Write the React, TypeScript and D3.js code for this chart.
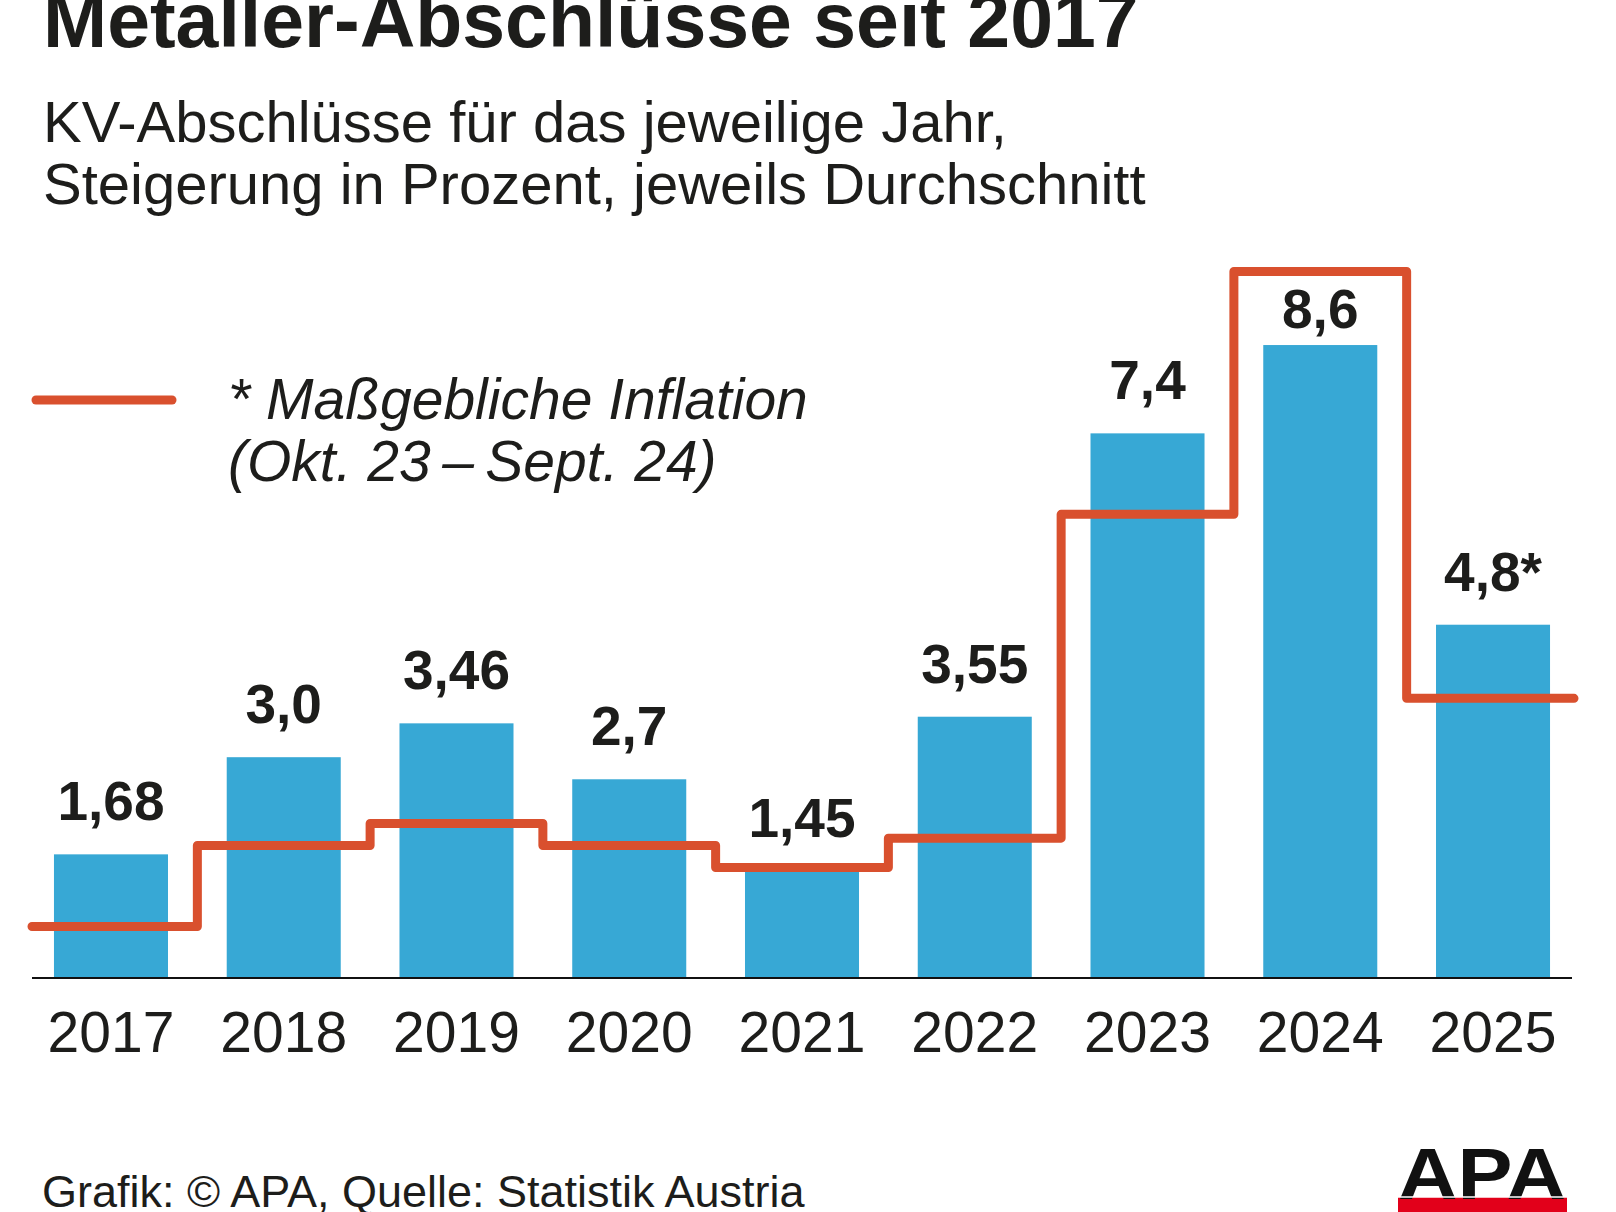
import React, { useEffect, useRef } from 'react';
import * as d3 from 'd3';

// Metaller KV agreements per year (percent) and the inflation they were based on
const years = ['2017', '2018', '2019', '2020', '2021', '2022', '2023', '2024', '2025'];
const agreements = [1.68, 3.0, 3.46, 2.7, 1.45, 3.55, 7.4, 8.6, 4.8];
const agreementLabels = ['1,68', '3,0', '3,46', '2,7', '1,45', '3,55', '7,4', '8,6', '4,8*'];
const inflation = [0.7, 1.8, 2.1, 1.8, 1.5, 1.9, 6.3, 9.6, 3.8];

const titleText = 'Metaller-Abschlüsse seit 2017';
const subtitleLines = ['KV-Abschlüsse für das jeweilige Jahr,', 'Steigerung in Prozent, jeweils Durchschnitt'];
const legendLines = ['* Maßgebliche Inflation', '(Okt. 23\u2009–\u2009Sept. 24)'];
const footerText = 'Grafik: © APA, Quelle: Statistik Austria';

const FONT = '"Liberation Sans", Arial, Helvetica, sans-serif';
const BAR_COLOR = '#37a8d5';
const LINE_COLOR = '#d9502e';
const TEXT_COLOR = '#1d1d1b';

function App() {
  const ref = useRef<SVGSVGElement>(null);

  useEffect(() => {
    const svg = d3.select(ref.current);
    svg.selectAll('*').remove();

    const width = 1616;
    const height = 1212;
    const baseY = 978;
    const axisX0 = 32;
    const axisX1 = 1572;

    svg.append('rect').attr('width', width).attr('height', height).attr('fill', '#fff');

    // Title and subtitle
    svg.append('text')
      .attr('x', 43).attr('y', 47)
      .attr('font-family', FONT).attr('font-weight', 'bold').attr('font-size', 77)
      .attr('fill', TEXT_COLOR)
      .text(titleText);

    svg.selectAll('.subtitle')
      .data(subtitleLines)
      .enter().append('text')
      .attr('x', 43)
      .attr('y', (d, i) => 142 + i * 62)
      .attr('font-family', FONT).attr('font-size', 58)
      .attr('fill', TEXT_COLOR)
      .text(d => d);

    // Scales
    const x = d3.scaleBand<string>()
      .domain(years)
      .range([24.6, 1579.4])
      .paddingInner(0.34)
      .paddingOuter(0.17);

    const y = d3.scaleLinear()
      .domain([0, 10])
      .range([baseY, baseY - 736]);

    // Bars
    svg.selectAll('.bar')
      .data(agreements)
      .enter().append('rect')
      .attr('x', (d, i) => x(years[i]) as number)
      .attr('y', d => y(d))
      .attr('width', x.bandwidth())
      .attr('height', d => baseY - y(d))
      .attr('fill', BAR_COLOR);

    // Baseline
    svg.append('line')
      .attr('x1', axisX0).attr('x2', axisX1)
      .attr('y1', baseY).attr('y2', baseY)
      .attr('stroke', '#111').attr('stroke-width', 2);

    // Year labels via axis
    const axis = svg.append('g')
      .attr('transform', `translate(0,${baseY})`)
      .call(d3.axisBottom(x).tickSize(0).tickPadding(34));
    axis.select('.domain').remove();
    axis.selectAll('text')
      .attr('font-family', FONT)
      .attr('font-size', 57)
      .attr('fill', TEXT_COLOR);

    // Inflation step line (steps at band boundaries)
    const center = (i: number) => (x(years[i]) as number) + x.bandwidth() / 2;
    const pts: [number, number][] = [[axisX0, inflation[0]]];
    inflation.forEach((v, i) => pts.push([center(i), v]));
    pts.push([axisX1 + 2, inflation[inflation.length - 1]]);

    const stepLine = d3.line<[number, number]>()
      .x(d => d[0])
      .y(d => y(d[1]))
      .curve(d3.curveStep);

    svg.append('path')
      .datum(pts)
      .attr('fill', 'none')
      .attr('stroke', LINE_COLOR)
      .attr('stroke-width', 9)
      .attr('stroke-linejoin', 'round')
      .attr('stroke-linecap', 'round')
      .attr('d', stepLine);

    // Value labels above bars; pushed below the inflation line when it sits over the label
    const labelSize = 55;
    const capH = labelSize * 0.72;
    svg.selectAll('.value')
      .data(agreements)
      .enter().append('text')
      .attr('x', (d, i) => center(i))
      .attr('y', (d, i) => {
        let b = y(d) - 34;
        const ly = y(inflation[i]);
        if (ly < b && ly + 4.5 + 12 > b - capH) b = ly + 4.5 + 12 + capH;
        return b;
      })
      .attr('text-anchor', 'middle')
      .attr('font-family', FONT).attr('font-weight', 'bold').attr('font-size', labelSize)
      .attr('fill', TEXT_COLOR)
      .text((d, i) => agreementLabels[i]);

    // Legend
    svg.append('line')
      .attr('x1', 36).attr('x2', 172)
      .attr('y1', 400).attr('y2', 400)
      .attr('stroke', LINE_COLOR).attr('stroke-width', 9)
      .attr('stroke-linecap', 'round');

    svg.selectAll('.legend')
      .data(legendLines)
      .enter().append('text')
      .attr('x', 228)
      .attr('y', (d, i) => 419 + i * 62)
      .attr('font-family', FONT).attr('font-style', 'italic').attr('font-size', 57)
      .attr('fill', TEXT_COLOR)
      .text(d => d);

    // Footer
    svg.append('text')
      .attr('x', 42).attr('y', 1207)
      .attr('font-family', FONT).attr('font-size', 45)
      .attr('fill', TEXT_COLOR)
      .text(footerText);

    // APA logo
    svg.append('rect')
      .attr('x', 1398).attr('y', 1197)
      .attr('width', 169).attr('height', 15)
      .attr('fill', '#e2001a');
    svg.append('text')
      .attr('x', 1398).attr('y', 1199)
      .attr('font-family', FONT).attr('font-weight', 'bold').attr('font-size', 72)
      .attr('textLength', 168).attr('lengthAdjust', 'spacingAndGlyphs')
      .attr('fill', '#111')
      .text('APA');
    svg.append('line')
      .attr('x1', 1398).attr('x2', 1567)
      .attr('y1', 1197).attr('y2', 1197)
      .attr('stroke', '#fff').attr('stroke-width', 1.5);
  }, []);

  return (
    <svg
      ref={ref}
      width={1616}
      height={1212}
      style={{ position: 'absolute', left: 0, top: 0, display: 'block' }}
    />
  );
}

export default App;
